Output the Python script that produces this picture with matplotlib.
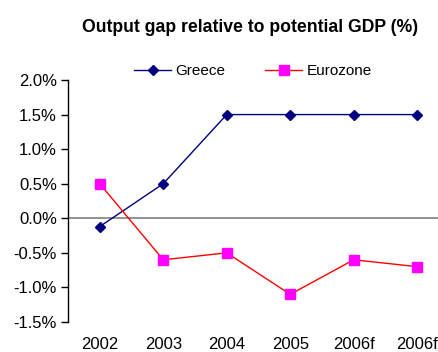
import matplotlib
matplotlib.use("Agg")
import matplotlib.pyplot as plt
from matplotlib.ticker import FuncFormatter

plt.rcParams['font.family'] = ['Liberation Sans', 'DejaVu Sans']

years = ["2002", "2003", "2004", "2005", "2006f", "2006f"]
greece = [-0.12, 0.5, 1.5, 1.5, 1.5, 1.5]
eurozone = [0.5, -0.6, -0.5, -1.1, -0.6, -0.7]

fig = plt.figure(figsize=(4.38, 3.52), dpi=100)
ax = fig.add_axes([68/438, 30/352, 381/438, 242/352])

x = list(range(len(years)))
ax.plot(x, greece, color='#000080', lw=1, marker='D', ms=5,
        mfc='#000080', mec='#000080', label='Greece', clip_on=False, zorder=3)
ax.plot(x, eurozone, color='#FF0000', lw=1, marker='s', ms=7.5,
        mfc='#FF00FF', mec='#FF00FF', label='Eurozone', clip_on=False, zorder=3)
ax.axhline(0, color='#808080', lw=1.2, zorder=1)

ax.set_xlim(-0.5, len(years) - 0.5)
ax.set_ylim(-1.5, 2.0)
ax.set_yticks([-1.5, -1.0, -0.5, 0.0, 0.5, 1.0, 1.5, 2.0])
ax.yaxis.set_major_formatter(FuncFormatter(lambda v, p: f"{v:.1f}%"))
ax.set_xticks(x)
ax.set_xticklabels(years)

for s in ['top', 'right', 'bottom']:
    ax.spines[s].set_visible(False)
ax.spines['left'].set_color('black')
ax.spines['left'].set_linewidth(1)
ax.tick_params(axis='y', direction='out', length=5, width=1, labelsize=12, pad=3)
ax.tick_params(axis='x', length=0, labelsize=12, pad=10.5)

fig.text(250/438, 1 - 27/352, "Output gap relative to potential GDP (%)",
         ha='center', va='center', fontsize=12.7, fontweight='bold')

ax.legend(loc='center', bbox_to_anchor=(253/438, 1 - 71/352),
          bbox_transform=fig.transFigure, ncol=2, frameon=False,
          fontsize=11, handlelength=2.4, columnspacing=2.6, handletextpad=0.3)

fig.savefig("out.png", dpi=100)
